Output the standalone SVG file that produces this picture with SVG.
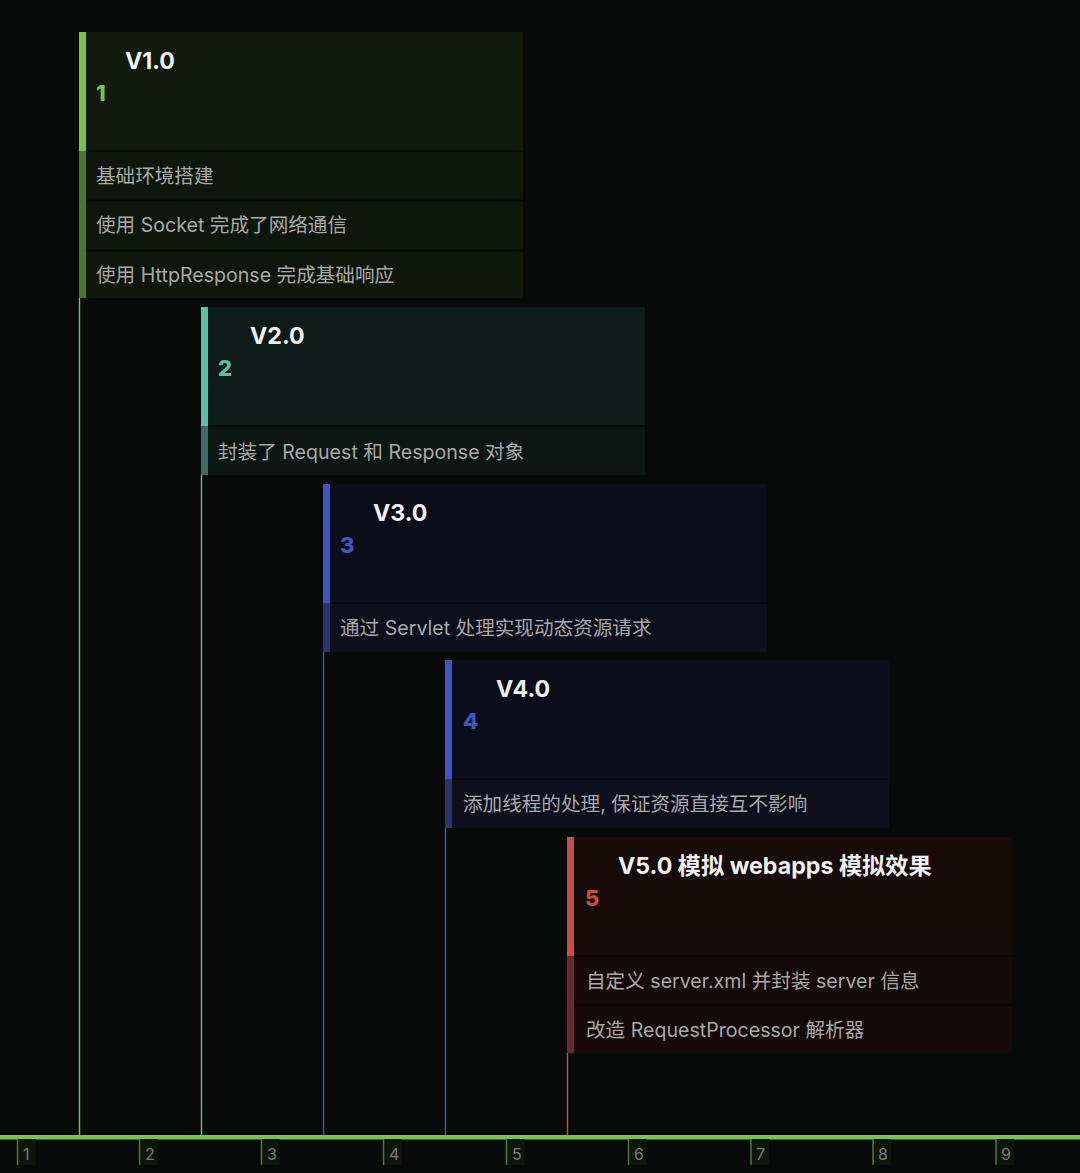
<svg xmlns="http://www.w3.org/2000/svg" width="1080" height="1173" viewBox="0 0 1080 1173">
<style>
.title{font-family:Inter,"Noto Sans CJK SC",sans-serif;font-weight:700;font-size:23.2px;fill:#f0f0f0}
.num{font-family:Inter,"Noto Sans CJK SC",sans-serif;font-weight:800;font-size:22px}
.item{font-family:Inter,"Noto Sans CJK SC",sans-serif;font-size:19.6px;fill:#a8a8a8}
.sep{stroke:#070906;stroke-width:1.5}
.tick{font-family:Inter,"Noto Sans",sans-serif;font-size:16px;fill:#7a7a7a}
.tbox{fill:#0e160b}
.tline{stroke:#4c7a34;stroke-width:1.5}
.g .bar{fill:#7ac14e}.g .bbar{fill:#4b7631}.g .num{fill:#7ac14e}.g .hd{fill:#121a0e}.g .bd{fill:#0f170c}
.t .bar{fill:#5ec0a2}.t .bbar{fill:#3b6c5f}.t .num{fill:#5ec0a2}.t .hd{fill:#0e1b18}.t .bd{fill:#0c1714}
.b .bar{fill:#3f56c2}.b .bbar{fill:#29356f}.b .num{fill:#3f56c2}.b .hd{fill:#0b0d1a}.b .bd{fill:#0d0f1c}
.r .bar{fill:#c24f4a}.r .bbar{fill:#6c2a28}.r .num{fill:#c24f4a}.r .hd{fill:#170b0a}.r .bd{fill:#150a09}
</style>
<rect width="1080" height="1173" fill="#080a09"/>
<g id="connectors" stroke-width="1.4">
<line x1="79.5" y1="298" x2="79.5" y2="1135" stroke="#7ac14e"/>
<line x1="201.5" y1="475" x2="201.5" y2="1135" stroke="#5ec0a2"/>
<line x1="323.5" y1="652" x2="323.5" y2="1135" stroke="#3f56c2"/>
<line x1="445.5" y1="828" x2="445.5" y2="1135" stroke="#3f56c2"/>
<line x1="567.5" y1="1053" x2="567.5" y2="1135" stroke="#c24f4a"/>
</g>
<g id="node-v1" class="g">
<rect class="hd" x="79" y="32" width="444" height="119"/>
<rect class="bd" x="79" y="151" width="444" height="147"/>
<rect class="bar" x="79" y="32" width="7" height="119"/>
<rect class="bbar" x="79" y="151" width="7" height="147"/>
<line class="sep" x1="86" y1="151" x2="523" y2="151"/>
<line class="sep" x1="86" y1="200.5" x2="523" y2="200.5"/>
<line class="sep" x1="86" y1="250.5" x2="523" y2="250.5"/>
<text class="title" x="125" y="69">V1.0</text>
<text class="num" x="96" y="101">1</text>
<text class="item" x="96" y="183">基础环境搭建</text>
<text class="item" x="96" y="232">使用 Socket 完成了网络通信</text>
<text class="item" x="96" y="282">使用 HttpResponse 完成基础响应</text>
</g>
<g id="node-v2" class="t">
<rect class="hd" x="201" y="307" width="444" height="119"/>
<rect class="bd" x="201" y="426" width="444" height="49"/>
<rect class="bar" x="201" y="307" width="7" height="119"/>
<rect class="bbar" x="201" y="426" width="7" height="49"/>
<line class="sep" x1="208" y1="426" x2="645" y2="426"/>
<text class="title" x="250" y="344">V2.0</text>
<text class="num" x="218" y="376">2</text>
<text class="item" x="218" y="459">封装了 Request 和 Response 对象</text>
</g>
<g id="node-v3" class="b">
<rect class="hd" x="323" y="484" width="444" height="119"/>
<rect class="bd" x="323" y="603" width="444" height="49"/>
<rect class="bar" x="323" y="484" width="7" height="119"/>
<rect class="bbar" x="323" y="603" width="7" height="49"/>
<line class="sep" x1="330" y1="603" x2="767" y2="603"/>
<text class="title" x="373" y="521">V3.0</text>
<text class="num" x="340" y="553">3</text>
<text class="item" x="340" y="635">通过 Servlet 处理实现动态资源请求</text>
</g>
<g id="node-v4" class="b">
<rect class="hd" x="445" y="660" width="444" height="119"/>
<rect class="bd" x="445" y="779" width="444" height="49"/>
<rect class="bar" x="445" y="660" width="7" height="119"/>
<rect class="bbar" x="445" y="779" width="7" height="49"/>
<line class="sep" x1="452" y1="779" x2="889" y2="779"/>
<text class="title" x="496" y="697">V4.0</text>
<text class="num" x="463" y="729">4</text>
<text class="item" x="463" y="811">添加线程的处理, 保证资源直接互不影响</text>
</g>
<g id="node-v5" class="r">
<rect class="hd" x="567" y="837" width="445" height="119"/>
<rect class="bd" x="567" y="956" width="445" height="97"/>
<rect class="bar" x="567" y="837" width="7" height="119"/>
<rect class="bbar" x="567" y="956" width="7" height="97"/>
<line class="sep" x1="574" y1="956" x2="1012" y2="956"/>
<line class="sep" x1="574" y1="1005" x2="1012" y2="1005"/>
<text class="title" x="618" y="874">V5.0 模拟 webapps 模拟效果</text>
<text class="num" x="585" y="906">5</text>
<text class="item" x="586" y="988">自定义 server.xml 并封装 server 信息</text>
<text class="item" x="586" y="1037">改造 RequestProcessor 解析器</text>
</g>
<g id="axis">
<rect x="0" y="1135" width="1080" height="4.5" fill="#7ac14e"/>
<rect class="tbox" x="17.5" y="1139" width="18" height="26"/>
<rect class="tbox" x="139.5" y="1139" width="18" height="26"/>
<rect class="tbox" x="261.5" y="1139" width="18" height="26"/>
<rect class="tbox" x="383.5" y="1139" width="18" height="26"/>
<rect class="tbox" x="506.5" y="1139" width="18" height="26"/>
<rect class="tbox" x="628.5" y="1139" width="18" height="26"/>
<rect class="tbox" x="751" y="1139" width="18" height="26"/>
<rect class="tbox" x="873" y="1139" width="18" height="26"/>
<rect class="tbox" x="996" y="1139" width="18" height="26"/>
<line class="tline" x1="17.5" y1="1139" x2="17.5" y2="1165"/>
<line class="tline" x1="139.5" y1="1139" x2="139.5" y2="1165"/>
<line class="tline" x1="261.5" y1="1139" x2="261.5" y2="1165"/>
<line class="tline" x1="383.5" y1="1139" x2="383.5" y2="1165"/>
<line class="tline" x1="506.5" y1="1139" x2="506.5" y2="1165"/>
<line class="tline" x1="628.5" y1="1139" x2="628.5" y2="1165"/>
<line class="tline" x1="751" y1="1139" x2="751" y2="1165"/>
<line class="tline" x1="873" y1="1139" x2="873" y2="1165"/>
<line class="tline" x1="996" y1="1139" x2="996" y2="1165"/>
<text class="tick" x="23" y="1160">1</text>
<text class="tick" x="145" y="1160">2</text>
<text class="tick" x="267" y="1160">3</text>
<text class="tick" x="389" y="1160">4</text>
<text class="tick" x="512" y="1160">5</text>
<text class="tick" x="634" y="1160">6</text>
<text class="tick" x="756" y="1160">7</text>
<text class="tick" x="878" y="1160">8</text>
<text class="tick" x="1001" y="1160">9</text>
</g>
</svg>
